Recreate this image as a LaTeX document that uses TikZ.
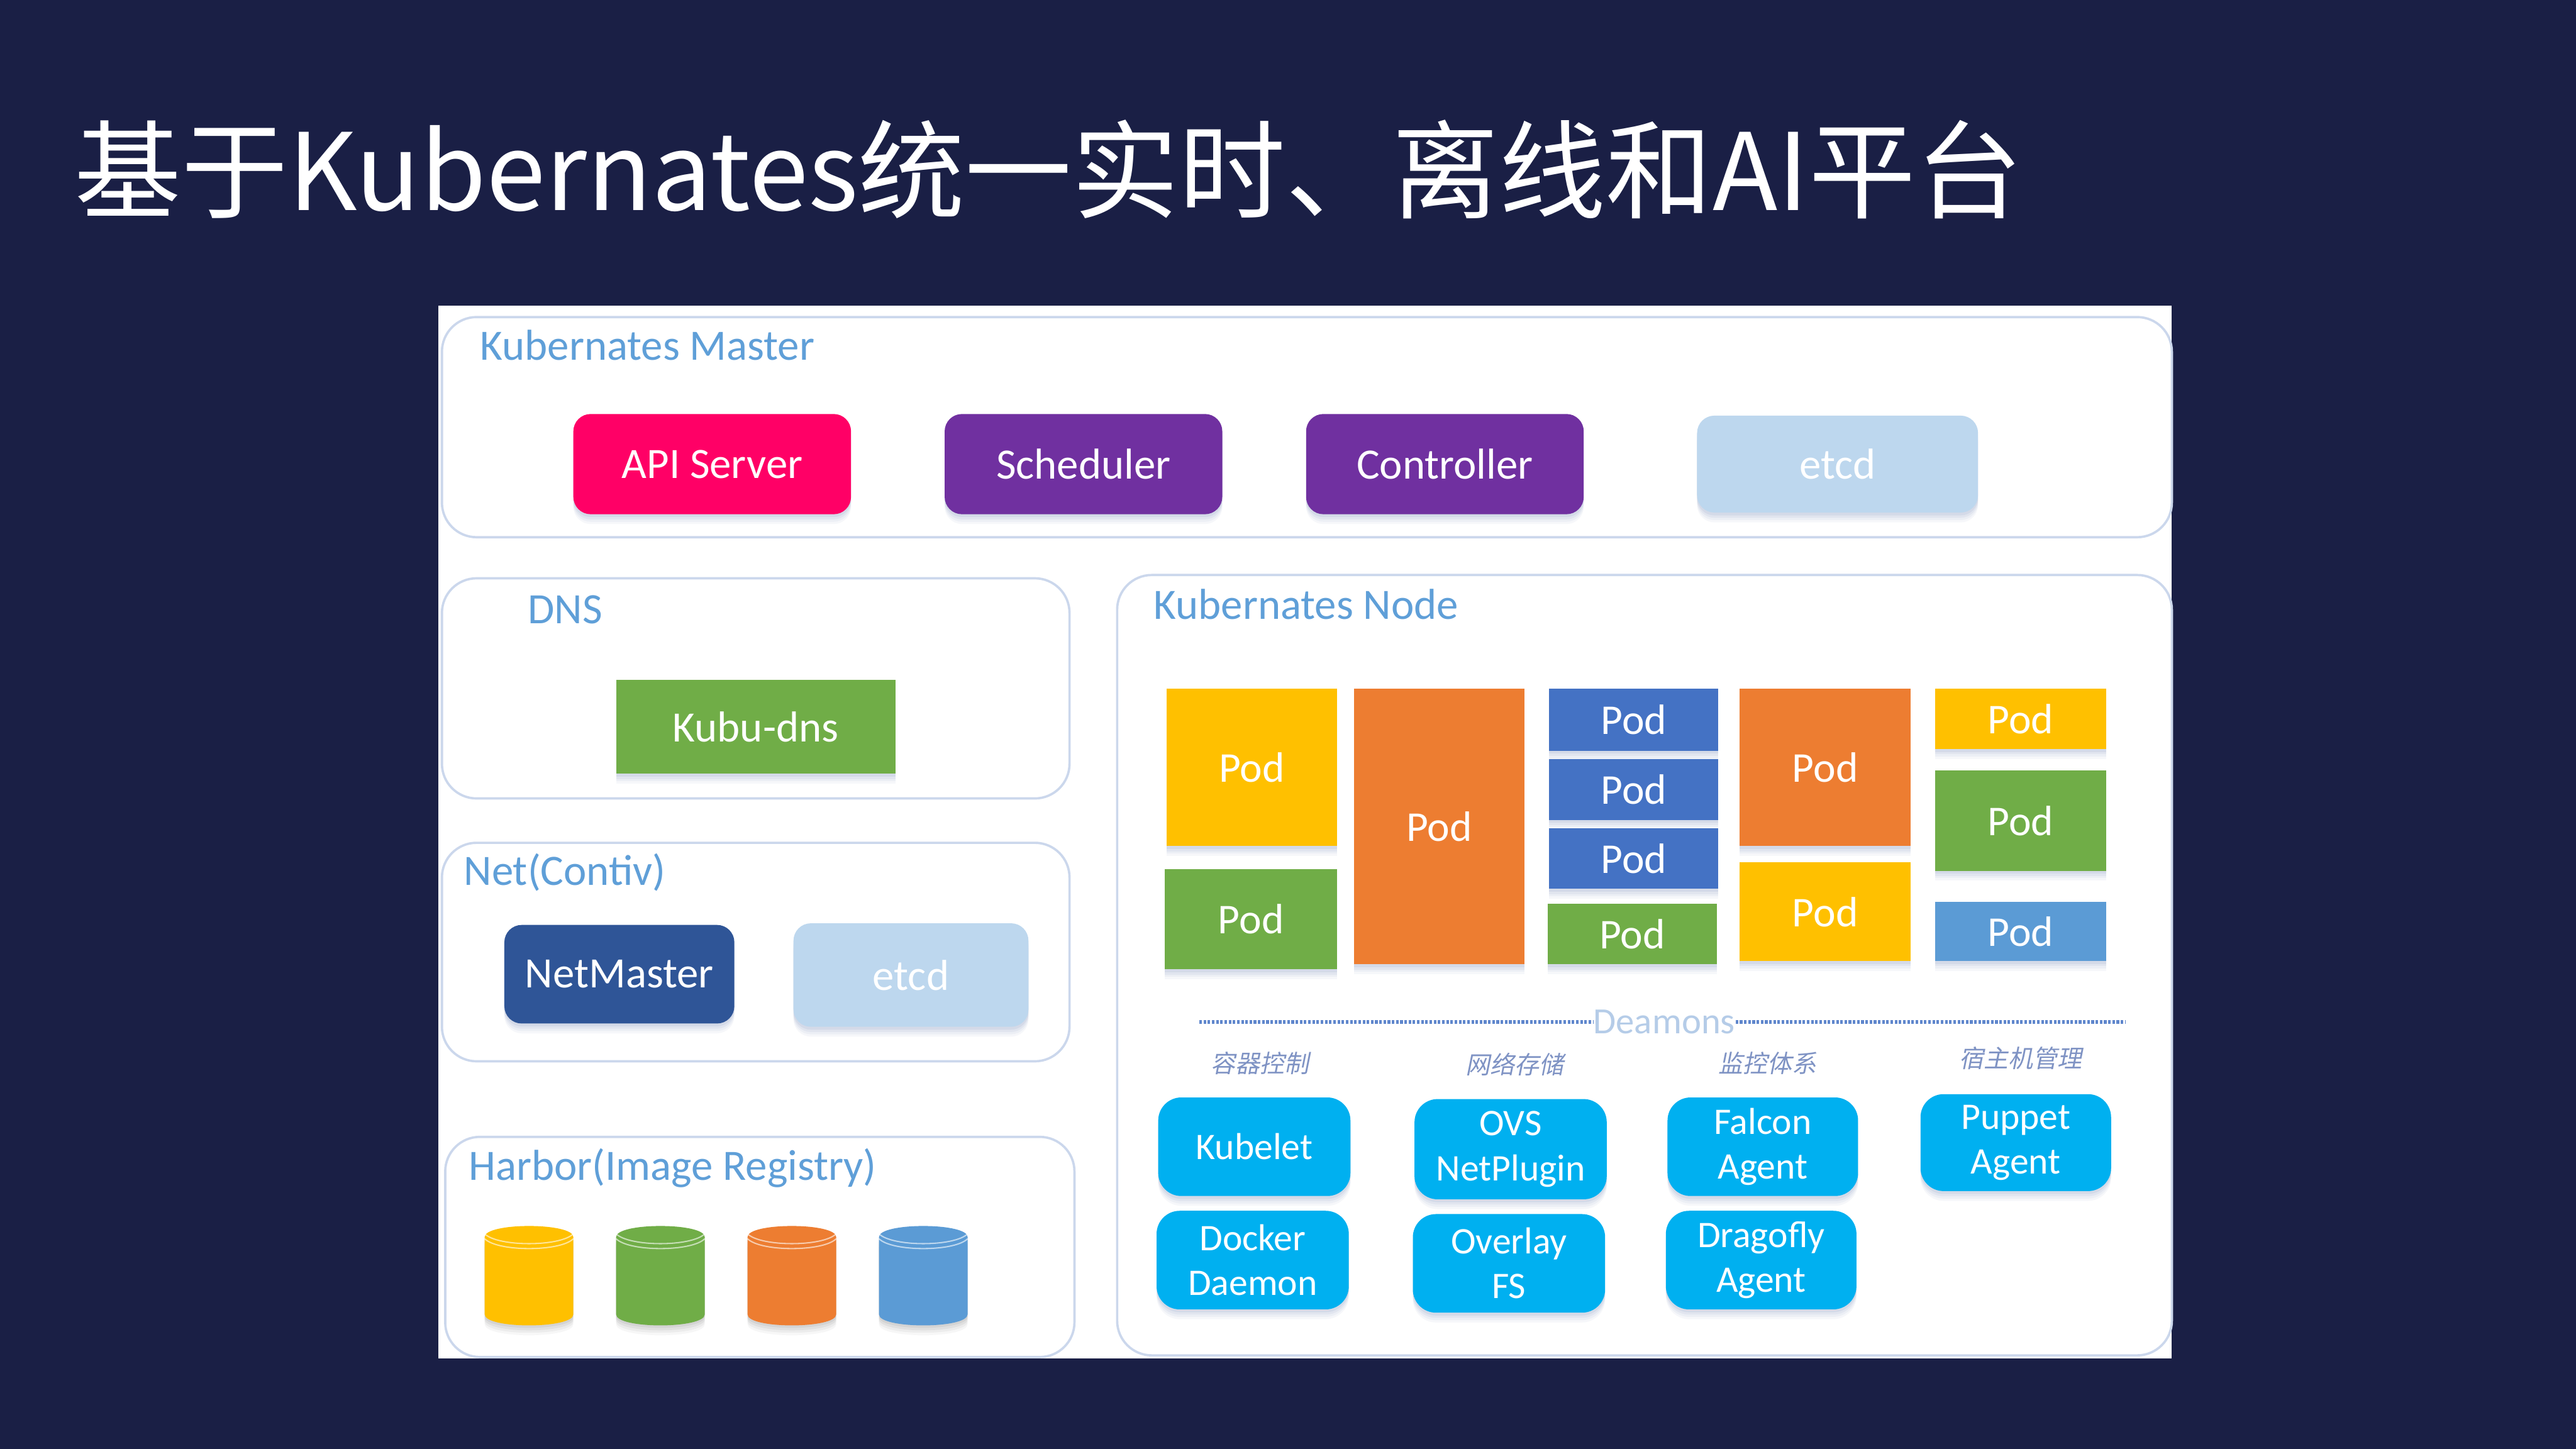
\documentclass[tikz,border=0pt]{standalone}
\usepackage{fontspec}
\setmainfont{Carlito}
\newfontfamily\cjkslant{Noto Sans CJK SC}[FakeSlant=0.2]
\newfontfamily\titlefont{Noto Sans CJK SC}
\usetikzlibrary{shadows,shapes.geometric,calc}
\definecolor{bg}{HTML}{1A1F45}
\definecolor{panelline}{HTML}{CBD7EC}
\definecolor{labelblue}{HTML}{5F9FD8}
\definecolor{hotpink}{HTML}{FF0066}
\definecolor{purp}{HTML}{7030A0}
\definecolor{pale}{HTML}{BDD7EE}
\definecolor{navy}{HTML}{2F5597}
\definecolor{grass}{HTML}{70AD47}
\definecolor{amber}{HTML}{FFC000}
\definecolor{orng}{HTML}{ED7D31}
\definecolor{royal}{HTML}{4472C4}
\definecolor{sky}{HTML}{5B9BD5}
\definecolor{cyanb}{HTML}{00B0F0}
\definecolor{capt}{HTML}{7F93C4}
\definecolor{shade}{HTML}{5A6FA8}
\tikzset{
  x=0.02cm,y=-0.02cm,
  softshadow/.style={
    drop shadow={shadow xshift=0pt,shadow yshift=-3.4pt,fill=shade,opacity=.05},
    drop shadow={shadow xshift=0pt,shadow yshift=-2.6pt,fill=shade,opacity=.06},
    drop shadow={shadow xshift=0pt,shadow yshift=-1.8pt,fill=shade,opacity=.07},
    drop shadow={shadow xshift=0pt,shadow yshift=-1pt,fill=shade,opacity=.09}},
  panel/.style={draw=panelline,line width=0.8pt,rounded corners=12pt,fill=white},
  paneltitle/.style={text=labelblue,font=\fontsize{15}{17}\selectfont,anchor=west,inner sep=0pt},
  basebox/.style={align=center,inner sep=0pt,text=white,font=\fontsize{15}{16}\selectfont,softshadow},
  round/.style={basebox,rounded corners=6pt},
  daemon/.style={basebox,rounded corners=8pt,fill=cyanb,font=\fontsize{13}{15.5}\selectfont},
  podbox/.style={basebox,font=\fontsize{14.7}{16}\selectfont},
  caption/.style={text=capt,font=\cjkslant\fontsize{8.5}{10}\selectfont,inner sep=0pt},
  ringline/.style={white,opacity=.6,line width=.45pt},
  dotline/.style={royal!85,line width=1.3pt,dash pattern=on .9pt off .55pt},
}
% name, x0, y0, x1, y1, style, text
\newcommand\placebox[7]{\node[#6,minimum width={(#4-#2)*0.02cm},minimum height={(#5-#3)*0.02cm}] (#1) at ({(#2+#4)/2},{(#3+#5)/2}) {#7};}
\newcommand\barrel[3]{% name, x0, colour
  \foreach \d/\o in {6/.03,4.5/.04,3/.05,1.5/.06}{
    \fill[shade,opacity=\o] (#2,753+\d) .. controls (#2,744+\d) and (#2+54,744+\d) .. (#2+54,753+\d) -- (#2+54,800+\d) .. controls (#2+54,809+\d) and (#2,809+\d) .. (#2,800+\d) -- cycle;}
  \fill[#3] (#2,753) .. controls (#2,744) and (#2+54,744) .. (#2+54,753) -- (#2+54,800) .. controls (#2+54,809) and (#2,809) .. (#2,800) -- cycle;
  \draw[ringline] (#2,751) .. controls (#2+8,759) and (#2+46,759) .. (#2+54,751);
  \draw[ringline] (#2,754) .. controls (#2+8,762) and (#2+46,762) .. (#2+54,754);
  \coordinate (#1) at (#2+27,776);}
\begin{document}
\begin{tikzpicture}
\useasboundingbox[fill=bg] (0,0) rectangle (1568,882);
\node[anchor=west,inner sep=0pt,text=white,font=\titlefont\fontsize{37}{40}\selectfont] (title) at (45,103) {基于Kubernates统一实时、离线和AI平台};
\fill[white] (267,186) rectangle (1322,827);
% panels
\placebox{master}{269}{193}{1322}{327}{panel}{}
\placebox{dns}{269}{352}{651}{486}{panel}{}
\placebox{net}{269}{513}{651}{646}{panel}{}
\placebox{harbor}{271}{692}{654}{826}{panel}{}
\placebox{knode}{680}{350}{1322}{825}{panel}{}
\node[paneltitle] (tmaster) at (292,210) {Kubernates Master};
\node[paneltitle] (tdns) at (321,371) {DNS};
\node[paneltitle] (tnet) at (282,531) {Net(Contiv)};
\node[paneltitle] (tharbor) at (285,711) {Harbor(Image Registry)};
\node[paneltitle] (tknode) at (702,368) {Kubernates Node};
% master
\placebox{api}{349}{252}{518}{313}{round,fill=hotpink}{API Server}
\placebox{sched}{575}{252}{744}{313}{round,fill=purp}{Scheduler}
\placebox{ctrl}{795}{252}{964}{313}{round,fill=purp}{Controller}
\placebox{etcdA}{1033}{253}{1204}{312}{round,fill=pale}{etcd}
% dns + net
\placebox{kubu}{375}{414}{545}{471}{basebox,fill=grass}{Kubu-dns}
\placebox{netm}{307}{563}{447}{623}{round,fill=navy}{NetMaster}
\placebox{etcdB}{483}{562}{626}{625}{round,fill=pale}{etcd}
% harbor
\barrel{cyA}{295}{amber}
\barrel{cyB}{375}{grass}
\barrel{cyC}{455}{orng}
\barrel{cyD}{535}{sky}
% pods
\placebox{p1}{710}{419}{814}{515}{podbox,fill=amber}{Pod}
\placebox{p2}{709}{529}{814}{590}{podbox,fill=grass}{Pod}
\placebox{p3}{824}{419}{928}{587}{podbox,fill=orng}{Pod}
\placebox{p4}{943}{419}{1046}{457}{podbox,fill=royal}{Pod}
\placebox{p5}{943}{462}{1046}{499}{podbox,fill=royal}{Pod}
\placebox{p6}{943}{504}{1046}{541}{podbox,fill=royal}{Pod}
\placebox{p7}{942}{550}{1045}{587}{podbox,fill=grass}{Pod}
\placebox{p8}{1059}{419}{1163}{515}{podbox,fill=orng}{Pod}
\placebox{p9}{1059}{525}{1163}{585}{podbox,fill=amber}{Pod}
\placebox{p10}{1178}{419}{1282}{456}{podbox,fill=amber}{Pod}
\placebox{p11}{1178}{469}{1282}{530}{podbox,fill=grass}{Pod}
\placebox{p12}{1178}{549}{1282}{585}{podbox,fill=sky}{Pod}
% deamons
\node[inner sep=0pt,text=panelline!80!labelblue,font=\fontsize{12.8}{14}\selectfont] (deamons) at (1013,622) {Deamons};
\coordinate (dl) at (730,622);
\coordinate (dr) at (1294,622);
\draw[dotline] (dl) -- (deamons.west);
\draw[dotline] (deamons.east) -- (dr);
\node[caption] (c1) at (767,647) {容器控制};
\node[caption] (c2) at (922,648) {网络存储};
\node[caption] (c3) at (1076,647) {监控体系};
\node[caption] (c4) at (1230,644) {宿主机管理};
\placebox{d1}{705}{668}{822}{728}{daemon}{Kubelet}
\placebox{d2}{704}{737}{821}{797}{daemon}{Docker\\Daemon}
\placebox{d3}{861}{669}{978}{730}{daemon}{OVS\\NetPlugin}
\placebox{d4}{860}{739}{977}{799}{daemon}{Overlay\\FS}
\placebox{d5}{1015}{668}{1131}{728}{daemon}{Falcon\\Agent}
\placebox{d6}{1014}{737}{1130}{797}{daemon}{Dragofly\\Agent}
\placebox{d7}{1169}{666}{1285}{725}{daemon}{Puppet\\Agent}
\end{tikzpicture}
\end{document}
